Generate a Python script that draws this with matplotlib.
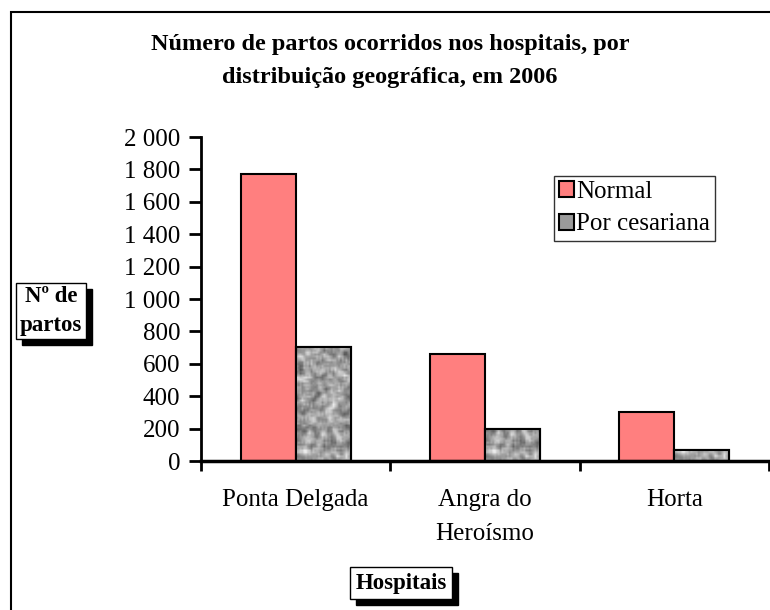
import numpy as np
import matplotlib
matplotlib.use("Agg")
import matplotlib.pyplot as plt
from matplotlib.patches import Rectangle
from numpy.lib.stride_tricks import sliding_window_view

categories = ["Ponta Delgada", "Angra do\nHeroísmo", "Horta"]
normal = [1770, 660, 305]
cesariana = [705, 195, 70]
series_names = ["Normal", "Por cesariana"]
yticks = [0, 200, 400, 600, 800, 1000, 1200, 1400, 1600, 1800, 2000]
ytick_labels = ["0", "200", "400", "600", "800", "1 000", "1 200", "1 400", "1 600", "1 800", "2 000"]

plt.rcParams['font.family'] = ['Liberation Serif', 'DejaVu Serif']

fig = plt.figure(figsize=(7.7, 6.1), dpi=100)
W, H = 770, 610

# outer frame (extends past right/bottom edges)
fig.patches.append(Rectangle((11 / W, -0.1), 1.2, (H - 12) / H + 0.1,
                             transform=fig.transFigure, fill=False,
                             edgecolor='black', linewidth=1.5))

ax = fig.add_axes([201 / W, 1 - 461 / H, (769 - 201) / W, (461 - 137) / H])
x = np.arange(len(categories))
bw = 0.29
b1 = ax.bar(x - bw / 2, normal, bw, color='#FF7F7F', edgecolor='black', linewidth=1.5,
            label=series_names[0], zorder=2)
b2 = ax.bar(x + bw / 2, cesariana, bw, color='#A8A8A8', edgecolor='black', linewidth=1.5,
            label=series_names[1], zorder=2)

# granite-like texture for cesariana bars (decorative fill only)
rng = np.random.default_rng(3)
noise = rng.random((170, 30))
pad = np.pad(noise, 1, mode='wrap')
sm = sliding_window_view(pad, (3, 3)).mean(axis=(2, 3))
sm = (sm - sm.min()) / (sm.max() - sm.min())
for r in b2:
    xx, yy = r.get_x(), r.get_y()
    w, h = r.get_width(), r.get_height()
    im = ax.imshow(sm, cmap='gray', vmin=-0.45, vmax=1.1, extent=(xx, xx + w, 0, 2000),
                   aspect='auto', zorder=2.5, interpolation='bilinear')
    im.set_clip_path(r)
    ax.add_patch(Rectangle((xx, yy), w, h, fill=False, edgecolor='black', linewidth=1.5, zorder=3))

ax.set_xlim(-0.5, 2.5)
ax.set_ylim(0, 2000)
ax.set_yticks(yticks)
ax.set_yticklabels(ytick_labels, fontsize=18)
ax.set_xticks([-0.5, 0.5, 1.5, 2.5])
ax.set_xticklabels([])
ax.set_xticks(x, minor=True)
ax.set_xticklabels(categories, minor=True, fontsize=18, linespacing=1.7)
ax.tick_params(axis='x', which='minor', length=0, pad=20)
ax.tick_params(axis='x', which='major', length=7, width=2, direction='out')
ax.tick_params(axis='y', length=9, width=2, direction='out', pad=6)
for s in ['top', 'right']:
    ax.spines[s].set_visible(False)
ax.spines['left'].set_linewidth(2)
ax.spines['bottom'].set_linewidth(2.5)

leg = ax.legend(loc='upper left', bbox_to_anchor=((554 - 201) / (769 - 201), (461 - 176) / (461 - 137)),
                fontsize=18, frameon=True, fancybox=False, edgecolor='black',
                handlelength=0.6, handleheight=0.6, handletextpad=0.1,
                borderpad=0.2, labelspacing=0.42, borderaxespad=0)
leg.get_frame().set_linewidth(1.0)
leg.legend_handles[1].set_facecolor('#9a9a9a')

fig.text(390 / W, 1 - 61 / H, "Número de partos ocorridos nos hospitais, por\ndistribuição geográfica, em 2006",
         ha='center', va='center', fontsize=17.5, fontweight='bold', linespacing=1.75)


boxes = []
def box(xc, yc, txt, pad):
    t = fig.text(xc, yc, txt, ha='center', va='center', fontsize=16.5, fontweight='bold',
                 color='black', linespacing=1.5, zorder=5,
                 bbox=dict(boxstyle='square,pad=%g' % pad, facecolor='white', edgecolor='black', linewidth=1))
    boxes.append(t)


box(51 / W, 1 - 311 / H, "Nº de\npartos", 0.15)
box(401 / W, 1 - 583 / H, "Hospitais", 0.22)

fig.canvas.draw()
for t in boxes:
    bb = t.get_bbox_patch().get_window_extent()
    fig.patches.append(Rectangle(((bb.x0 + 6) / W, (bb.y0 - 6) / H), bb.width / W, bb.height / H,
                                 transform=fig.transFigure, facecolor='black', edgecolor='black',
                                 zorder=4))

fig.savefig("out.png", dpi=100)
